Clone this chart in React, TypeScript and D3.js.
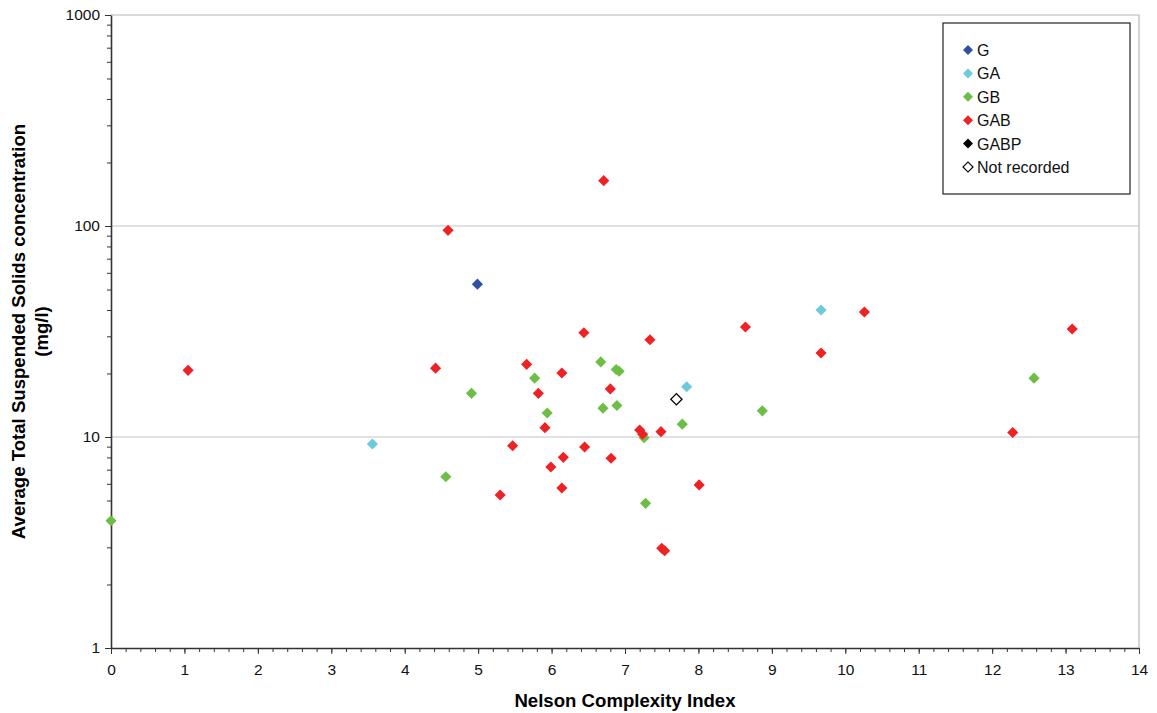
import * as d3 from 'd3';
import React, { useEffect, useRef } from 'react';

// series values: x = Nelson Complexity Index, y = TSS (mg/l)
const gX = [4.99];
const gY = [53.0];

const gaX = [3.56, 7.84, 9.67];
const gaY = [9.27, 17.3, 40.0];

const gbX = [0, 4.56, 4.91, 5.77, 5.94, 6.67, 6.70, 6.88, 6.92, 6.89, 7.26, 7.28, 7.78, 8.87, 12.57];
const gbY = [4.01, 6.48, 16.1, 19.0, 13.0, 22.7, 13.7, 20.9, 20.5, 14.1, 9.93, 4.85, 11.5, 13.3, 19.0];

const gabX = [
  1.05, 4.42, 4.59, 5.3, 5.47, 5.66, 5.82, 5.91, 5.99, 6.14, 6.14, 6.16, 6.44, 6.45, 6.71, 6.8, 6.81, 7.2,
  7.24, 7.34, 7.49, 7.5, 7.54, 8.01, 8.64, 9.67, 10.26, 12.28, 13.09,
];
const gabY = [
  20.7, 21.2, 95.4, 5.31, 9.09, 22.1, 16.1, 11.07, 7.21, 20.1, 5.73, 8.01, 31.2, 8.97, 164, 16.9, 7.93, 10.8,
  10.3, 28.9, 10.6, 2.97, 2.89, 5.93, 33.2, 25.0, 39.1, 10.5, 32.5,
];

const gabpX: number[] = [];
const gabpY: number[] = [];

const nrX = [7.7];
const nrY = [15.1];

const seriesNames = ['G', 'GA', 'GB', 'GAB', 'GABP', 'Not recorded'];
const seriesColors = ['#2E4FA3', '#6CCBDB', '#6DBE45', '#EE2224', '#000000', '#ffffff'];

const xTicks = [0, 1, 2, 3, 4, 5, 6, 7, 8, 9, 10, 11, 12, 13, 14];
const yTicks = [1, 10, 100, 1000];

const width = 1157;
const height = 713;
const margin = { top: 15, right: 18, bottom: 65, left: 111 };
const font = '"Liberation Sans", Arial, sans-serif';

export default function App() {
  const ref = useRef<SVGSVGElement>(null);

  useEffect(() => {
    const svg = d3.select(ref.current);
    svg.selectAll('*').remove();

    const x = d3
      .scaleLinear()
      .domain([0, 14])
      .range([margin.left, width - margin.right]);
    const y = d3
      .scaleLog()
      .domain([1, 1000])
      .range([height - margin.bottom, margin.top]);

    const x0 = x(0);
    const x1 = x(14);
    const y0 = y(1);
    const y1 = y(1000);

    // plot frame (light) + gridlines
    svg
      .append('path')
      .attr('d', `M${x0},${y1}H${x1}V${y0}`)
      .attr('fill', 'none')
      .attr('stroke', '#b8b8b8')
      .attr('stroke-width', 1.2);

    svg
      .selectAll('line.grid')
      .data([10, 100])
      .enter()
      .append('line')
      .attr('class', 'grid')
      .attr('x1', x0)
      .attr('x2', x1)
      .attr('y1', (d) => y(d))
      .attr('y2', (d) => y(d))
      .attr('stroke', '#c4c4c4')
      .attr('stroke-width', 1.2);

    // minor ticks
    const xMinor = d3.range(0, 14.001, 0.2).map((v) => Math.round(v * 10) / 10);
    svg
      .append('g')
      .attr('transform', `translate(0,${y0})`)
      .call(d3.axisBottom(x).tickValues(xMinor).tickSize(4).tickFormat(() => '').tickSizeOuter(0))
      .call((g) => g.select('.domain').remove())
      .call((g) => g.selectAll('line').attr('stroke', '#333'));

    const yMinor: number[] = [];
    [1, 10, 100].forEach((b) => {
      for (let k = 2; k <= 9; k++) yMinor.push(b * k);
    });
    svg
      .append('g')
      .attr('transform', `translate(${x0},0)`)
      .call(d3.axisLeft(y).tickValues(yMinor).tickSize(4).tickFormat(() => '').tickSizeOuter(0))
      .call((g) => g.select('.domain').remove())
      .call((g) => g.selectAll('line').attr('stroke', '#333'));

    // major axes
    const xAxis = svg
      .append('g')
      .attr('transform', `translate(0,${y0})`)
      .call(d3.axisBottom(x).tickValues(xTicks).tickSize(6).tickPadding(10).tickSizeOuter(0).tickFormat(d3.format('d')));
    const yAxis = svg
      .append('g')
      .attr('transform', `translate(${x0},0)`)
      .call(d3.axisLeft(y).tickValues(yTicks).tickSize(6).tickPadding(5).tickSizeOuter(0).tickFormat(d3.format('d')));

    [xAxis, yAxis].forEach((a) => {
      a.select('.domain').attr('stroke', '#333').attr('stroke-width', 1.6);
      a.selectAll('line').attr('stroke', '#333');
      a.selectAll('text').attr('font-family', font).attr('font-size', 15.5).attr('fill', '#111');
    });

    // axis titles
    svg
      .append('text')
      .attr('x', (x0 + x1) / 2)
      .attr('y', 707)
      .attr('text-anchor', 'middle')
      .attr('font-family', font)
      .attr('font-weight', 'bold')
      .attr('font-size', 18.6)
      .text('Nelson Complexity Index');

    const yt = svg
      .append('text')
      .attr('transform', `translate(25,${(y0 + y1) / 2}) rotate(-90)`)
      .attr('text-anchor', 'middle')
      .attr('font-family', font)
      .attr('font-weight', 'bold')
      .attr('font-size', 18.6);
    yt.append('tspan').attr('x', 0).attr('dy', 0).text('Average Total Suspended Solids concentration');
    yt.append('tspan').attr('x', 0).attr('dy', 23).text('(mg/l)');

    // points
    const series = [
      [gX, gY],
      [gaX, gaY],
      [gbX, gbY],
      [gabX, gabY],
      [gabpX, gabpY],
      [nrX, nrY],
    ];
    const diamond = d3.symbol().type(d3.symbolSquare).size(62);

    series.forEach(([xs, ys], si) => {
      svg
        .append('g')
        .selectAll('path')
        .data(xs.map((v, i) => [v, ys[i]]))
        .enter()
        .append('path')
        .attr('d', diamond() as string)
        .attr('transform', (d) => `translate(${x(d[0])},${y(d[1])}) rotate(45)`)
        .attr('fill', seriesColors[si])
        .attr('stroke', si === 5 ? '#000' : 'none')
        .attr('stroke-width', 1.3);
    });

    // legend
    const lg = svg.append('g').attr('transform', 'translate(943,23)');
    lg.append('rect')
      .attr('width', 187)
      .attr('height', 171)
      .attr('fill', '#fff')
      .attr('stroke', '#222')
      .attr('stroke-width', 1.2);
    const small = d3.symbol().type(d3.symbolSquare).size(50);
    seriesNames.forEach((name, i) => {
      const row = lg.append('g').attr('transform', `translate(25,${27 + i * 23.4})`);
      row
        .append('path')
        .attr('d', small() as string)
        .attr('transform', 'rotate(45)')
        .attr('fill', seriesColors[i])
        .attr('stroke', i === 5 ? '#000' : 'none')
        .attr('stroke-width', 1.2);
      row
        .append('text')
        .attr('x', 9)
        .attr('y', 6)
        .attr('font-family', font)
        .attr('font-size', 16)
        .attr('fill', '#111')
        .text(name);
    });
  }, []);

  return (
    <svg
      ref={ref}
      width={width}
      height={height}
      style={{ position: 'absolute', left: 0, top: 0, background: '#fff' }}
    ></svg>
  );
}
